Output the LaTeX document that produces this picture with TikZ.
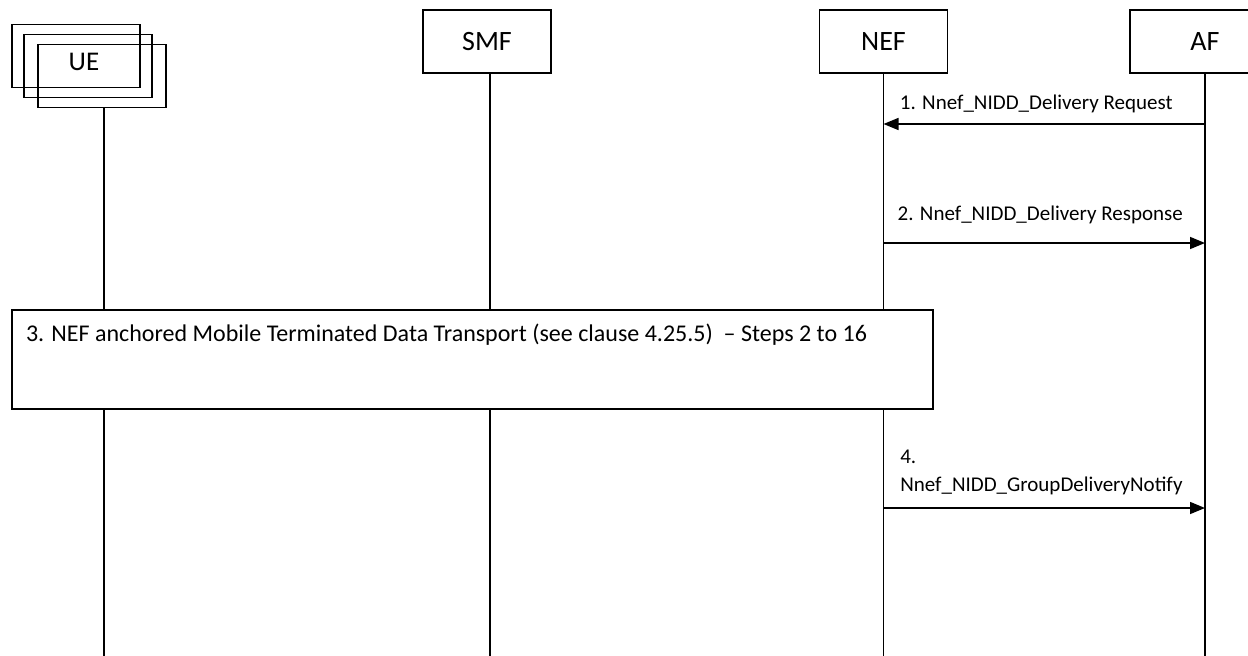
\documentclass[tikz,border=0pt]{standalone}
\usepackage{fontspec}
\setmainfont{Carlito}
\usetikzlibrary{positioning,arrows.meta}

\tikzset{
  entity/.style={draw, minimum width=128pt, minimum height=63pt, inner sep=0pt,
    font=\fontsize{28}{32}\selectfont},
  msg/.style={-{Triangle[length=15pt,width=12pt]}},
  msglabel/.style={font=\fontsize{21}{28}\selectfont, inner sep=0pt}
}

\begin{document}
\begin{tikzpicture}[x=1pt,y=-1pt,line width=1.5pt]
\useasboundingbox (0,0) rectangle (1248,656);

% participants
\node[entity] (ueback) at (76,56) {};
\node[entity] (ue) at (88,66) {};
\node[entity] (uefront) at (102,76) {};
\node[inner sep=0pt, font=\fontsize{27}{32}\selectfont] (uelabel) at (84,62) {UE};
\node[entity] (smf) at (487,41.5) {SMF};
\node[entity] (nef) at (883.5,41.5) {NEF};
\node[entity, minimum width=150pt] (af) at (1205,41.5) {AF};

% lifelines
\coordinate (bottom) at (0,660);
\coordinate (uetop) at ([xshift=2pt]uefront.south);
\coordinate (smftop) at ([xshift=3pt]smf.south);
\draw (uetop) -- (uetop |- bottom);
\draw (smftop) -- (smftop |- bottom);
\draw (nef.south) -- (nef.south |- bottom);
\draw (af.south) -- (af.south |- bottom);

% message rows
\coordinate (row1) at (0,124);
\coordinate (row2) at (0,243);
\coordinate (row4) at (0,508);
\coordinate (af1) at (af.south |- row1);
\coordinate (nef1) at (nef.south |- row1);
\coordinate (nef2) at (nef.south |- row2);
\coordinate (af2) at (af.south |- row2);
\coordinate (nef4) at (nef.south |- row4);
\coordinate (af4) at (af.south |- row4);

\draw[msg] (af1) -- node[msglabel, above=10pt, xshift=-8pt] (lab1) {1. Nnef\_NIDD\_Delivery Request} (nef1);
\draw[msg] (nef2) -- node[msglabel, above=18pt, xshift=-4pt] (lab2) {2. Nnef\_NIDD\_Delivery Response} (af2);

% step 3 box
\node[draw, fill=white, minimum width=921pt, minimum height=99pt, inner sep=0pt] (step3) at (472.5,359.5) {};
\node[msglabel, font=\fontsize{24}{28}\selectfont, anchor=north west] (lab3) at ([xshift=14pt,yshift=-14pt]step3.north west)
  {3. NEF anchored Mobile Terminated Data Transport (see clause 4.25.5)\ \ -- Steps 2 to 16};

\draw[msg] (nef4) -- (af4);
\node[msglabel, align=left, above right=12pt and 16pt of nef4] (lab4) {4.\\Nnef\_NIDD\_GroupDeliveryNotify};
\end{tikzpicture}
\end{document}
